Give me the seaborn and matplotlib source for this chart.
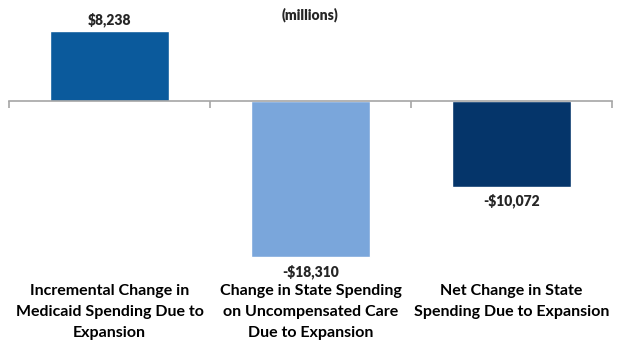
import matplotlib
matplotlib.use("Agg")
import matplotlib.pyplot as plt
import seaborn as sns
import pandas as pd

categories = ["Incremental Change in\nMedicaid Spending Due to\nExpansion",
              "Change in State Spending\non Uncompensated Care\nDue to Expansion",
              "Net Change in State\nSpending Due to Expansion"]
values = [8238, -18310, -10072]
value_labels = ["$8,238", "-$18,310", "-$10,072"]
colors = ["#0B5A9C", "#7AA6DB", "#05356A"]
title = "(millions)"

sns.set_theme(style="white")
plt.rcParams['font.family'] = ['Lato', 'DejaVu Sans']

df = pd.DataFrame({"cat": categories, "val": values})

fig = plt.figure(figsize=(6.21, 3.43), dpi=100)
W, H = 621, 343
ax_left, ax_right = 9, 612
ax_top, ax_bot = 11.4, 267
ax = fig.add_axes([ax_left / W, (H - ax_bot) / H, (ax_right - ax_left) / W, (ax_bot - ax_top) / H])

sns.barplot(data=df, x="cat", y="val", hue="cat", palette=colors, legend=False,
            width=0.59, saturation=1, ax=ax)

ax.set_xlim(-0.5, 2.5)
ax.set_ylim(-19500, 10500)
for s in ["left", "right", "top"]:
    ax.spines[s].set_visible(False)
ax.spines["bottom"].set_position(("data", 0))
ax.spines["bottom"].set_color("#A6A6A6")
ax.spines["bottom"].set_linewidth(1.2)
ax.set_yticks([])
ax.set_xticks([])
ax.set_xticks([-0.5, 0.5, 1.5, 2.5], minor=True)
ax.tick_params(axis="x", which="minor", bottom=True, length=5, width=1.2, color="#A6A6A6", direction="out")
ax.set_xlabel("")
ax.set_ylabel("")

def yfrac(px):
    return (ax_bot - px) / (ax_bot - ax_top)

trans = ax.get_xaxis_transform()
for i, lab in enumerate(categories):
    ax.text(i, yfrac(284), lab, transform=trans, ha="center", va="top",
            fontsize=11.5, fontweight="bold", color="black", linespacing=1.65)

for i, (v, lab) in enumerate(zip(values, value_labels)):
    if v >= 0:
        ax.annotate(lab, (i, v), xytext=(0, 3), textcoords="offset points",
                    ha="center", va="bottom", fontsize=10, fontweight="heavy")
    else:
        ax.annotate(lab, (i, v), xytext=(0, -5), textcoords="offset points",
                    ha="center", va="top", fontsize=10, fontweight="heavy")

ax.text(1, yfrac(15), title, transform=trans, ha="center", va="center",
        fontsize=10, fontweight="heavy")

fig.savefig("out.png", dpi=100)
